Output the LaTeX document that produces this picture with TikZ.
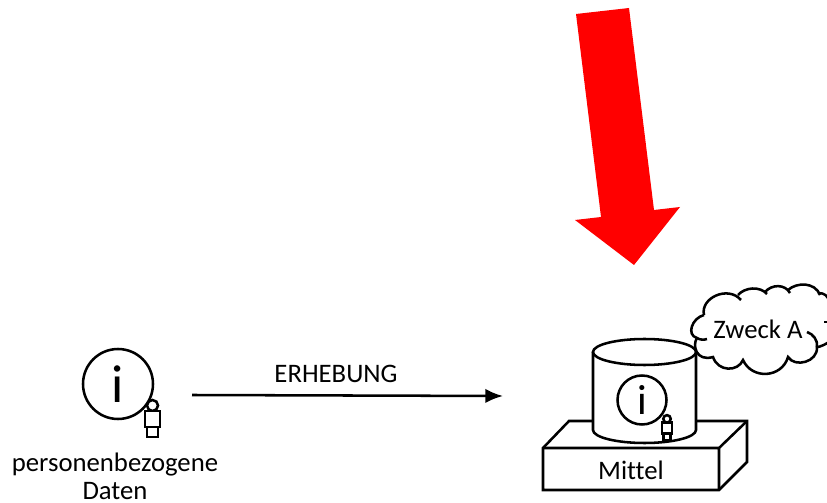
\documentclass[tikz,border=0pt]{standalone}
\usepackage{fontspec}
\setmainfont{Carlito}[Ligatures=NoCommon]
\usetikzlibrary{%
  arrows,%
  arrows.meta,%
  positioning,% wg. " of "
  calc
}

\begin{document}
\begin{tikzpicture}
  [
  x=0.025cm, y=-0.025cm,
  line width=1.8pt, draw=black, >={Latex[length=4.4mm,width=3.6mm]},
  info/.style={circle, draw=black, fill=white, inner sep=0pt},
  label/.style={font=\fontsize{19}{20}\selectfont, inner sep=0pt, align=center},
  person/.pic={
    \draw[fill=white] (0,-10.5) circle (5.5);
    \draw[fill=white] (-7.5,-5) rectangle (7.5,11);
    \draw[fill=white] (-5.5,11) rectangle (5.5,21);
  }
  ]

\useasboundingbox (0,0) rectangle (827,503);

% the red arrow
\fill[red] (576,14) -- (629,8) -- (654,210) -- (680,207) -- (634,265) -- (575,220) -- (601,217) -- cycle;

% data, left
\node[info, minimum size=70*0.025cm, font=\fontsize{38}{38}\selectfont] (data) at (118,384) {i};
\pic at (152.5,416) {person};
\node[label] (datalabel) at (115,476) {personenbezogene\\Daten};

% collection
\coordinate (start) at (192,395);
\coordinate (end) at (503,396);
\draw[->] (start) -- (end);
\node[label] (collect) at (336,374) {ERHEBUNG};

% cloud
\begin{scope}
\clip (0,0) rectangle (827,503);
\draw (704,315) .. controls (692,318) and (686,335) .. (697,338)
  .. controls (700,340) and (704,340) .. (707,339);
\draw (697,338) .. controls (692,345) and (696,362) .. (713,357)
  .. controls (718,372) and (738,372) .. (743,360)
  .. controls (752,380) and (782,378) .. (788,357)
  .. controls (795,368) and (818,362) .. (817,347)
  .. controls (820,347) and (825,345) .. (835,338);
\draw (817,347) .. controls (818,340) and (813,334) .. (807,332);
\draw (704,315) .. controls (700,298) and (728,285) .. (741,300);
\draw (738,295) .. controls (745,287) and (760,286) .. (767,294);
\draw (765,292) .. controls (772,284) and (785,284) .. (790,293);
\draw (788,290) .. controls (797,282) and (815,282) .. (820,295);
\draw (818,293) .. controls (825,293) and (827,296) .. (829,300);
\draw (824,322) -- (829,322);
\end{scope}
\node[label] (purpose) at (758,329) {Zweck A};

% box
\draw[fill=white] (543,448) -- (569,421) -- (747,421) -- (747,462) -- (719,490) -- (543,490) -- cycle;
\draw (543,448) -- (719,448) -- (719,490) (719,448) -- (747,421);
\node[label] (means) at (631,470) {Mittel};

% cylinder
\draw[fill=white] (593,352) -- (593,430) arc[start angle=180, end angle=360, x radius=51.5, y radius=-13] -- (696,352);
\draw[fill=white] (644.5,352) ellipse (51.5 and 13);

% data inside the cylinder
\node[info, minimum size=49*0.025cm, font=\fontsize{30}{30}\selectfont] (datainner) at (642,400) {i};
\pic[scale=0.68] at (667,426) {person};
\end{tikzpicture}
\end{document}
